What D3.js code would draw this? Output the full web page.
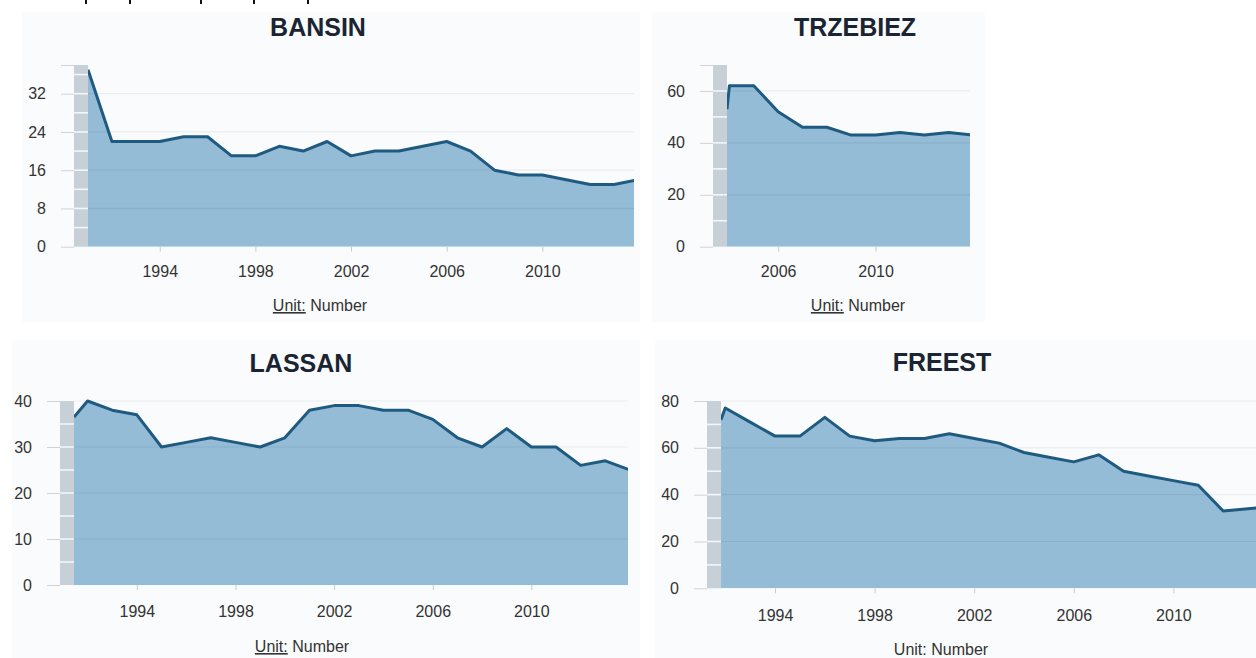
<!DOCTYPE html>
<html>
<head>
<meta charset="utf-8">
<script src="https://cdn.jsdelivr.net/npm/d3@7"></script>
<style>
  body { margin: 0; background: #fff; }
  svg { display: block; font-family: "Liberation Sans", Arial, sans-serif; }
</style>
</head>
<body>
<div id="chart"></div>
<script>
// data (first entry of each series = value at the left edge of the plot)
const bansinYears = [1991, 1992, 1993, 1994, 1995, 1996, 1997, 1998, 1999, 2000, 2001, 2002, 2003, 2004, 2005, 2006, 2007, 2008, 2009, 2010, 2011, 2012, 2013, 2014];
const bansinValues = [37, 22, 22, 22, 23, 23, 19, 19, 21, 20, 22, 19, 20, 20, 21, 22, 20, 16, 15, 15, 14, 13, 13, 14];

const trzebiezYears = [2003.9, 2004, 2005, 2006, 2007, 2008, 2009, 2010, 2011, 2012, 2013, 2014];
const trzebiezValues = [53, 62, 62, 52, 46, 46, 43, 43, 44, 43, 44, 43];

const lassanYears = [1991.45, 1992, 1993, 1994, 1995, 1996, 1997, 1998, 1999, 2000, 2001, 2002, 2003, 2004, 2005, 2006, 2007, 2008, 2009, 2010, 2011, 2012, 2013, 2014];
const lassanValues = [36.5, 40, 38, 37, 30, 31, 32, 31, 30, 32, 38, 39, 39, 38, 38, 36, 32, 30, 34, 30, 30, 26, 27, 25];

const freestYears = [1991.83, 1992, 1993, 1994, 1995, 1996, 1997, 1998, 1999, 2000, 2001, 2002, 2003, 2004, 2005, 2006, 2007, 2008, 2009, 2010, 2011, 2012, 2013, 2014];
const freestValues = [72, 77, 71, 65, 65, 73, 65, 63, 64, 64, 66, 64, 62, 58, 56, 54, 57, 50, 48, 46, 44, 33, 34, 35];

const longYearTicks = [1994, 1998, 2002, 2006, 2010];
const shortYearTicks = [2006, 2010];

const bansinYTicks = [0, 8, 16, 24, 32];
const trzebiezYTicks = [0, 20, 40, 60];
const lassanYTicks = [0, 10, 20, 30, 40];
const freestYTicks = [0, 20, 40, 60, 80];

const width = 1256, height = 658;

const svg = d3.select("#chart").append("svg")
    .attr("width", width)
    .attr("height", height);

svg.append("rect").attr("width", width).attr("height", height).attr("fill", "#fff");

// little black stubs along the very top edge
[86, 130, 201, 254, 308].forEach(x => {
    svg.append("rect").attr("x", x - 1).attr("y", 0).attr("width", 2).attr("height", 4).attr("fill", "#111");
});

const panels = [
    { title: "BANSIN", years: bansinYears, values: bansinValues, yTicks: bansinYTicks,
      yMax: 38, minor: 4, xTicks: longYearTicks,
      bg: [22, 12, 618, 310], left: 88, right: 638, clipRight: 634, top: 65, bottom: 246.7,
      titleX: 318, titleY: 36, labelGap: 15, unitX: 320, unitY: 311, underline: true },
    { title: "TRZEBIEZ", years: trzebiezYears, values: trzebiezValues, yTicks: trzebiezYTicks,
      yMax: 70, minor: 10, xTicks: shortYearTicks,
      bg: [652, 12, 333, 310], left: 727, right: 973, clipRight: 970, top: 65, bottom: 246.7,
      titleX: 855, titleY: 36, labelGap: 15, unitX: 858, unitY: 311, underline: true },
    { title: "LASSAN", years: lassanYears, values: lassanValues, yTicks: lassanYTicks,
      yMax: 40, minor: 5, xTicks: longYearTicks,
      bg: [12, 340, 628, 318], left: 74, right: 630, clipRight: 628, top: 401, bottom: 585,
      titleX: 301, titleY: 372, labelGap: 17, unitX: 302, unitY: 652, underline: true },
    { title: "FREEST", years: freestYears, values: freestValues, yTicks: freestYTicks,
      yMax: 80, minor: 10, xTicks: longYearTicks,
      bg: [655, 340, 601, 318], left: 721, right: 1273, clipRight: 1256, top: 401, bottom: 588.3,
      titleX: 942, titleY: 371, labelGap: 17, unitX: 941, unitY: 655, underline: false }
];

const bandWidth = 14;

panels.forEach((p, idx) => {
    const g = svg.append("g");
    const data = p.years.map((yr, i) => ({ year: yr, value: p.values[i] }));

    const x = d3.scaleLinear()
        .domain([p.years[0], p.years[p.years.length - 1]])
        .range([p.left, p.right]);
    const y = d3.scaleLinear().domain([0, p.yMax]).range([p.bottom, p.top]);

    // faint panel background
    g.append("rect")
        .attr("x", p.bg[0]).attr("y", p.bg[1])
        .attr("width", p.bg[2]).attr("height", p.bg[3])
        .attr("fill", "#fafbfc");

    // title
    g.append("text")
        .attr("x", p.titleX).attr("y", p.titleY)
        .attr("text-anchor", "middle")
        .attr("font-size", 25).attr("font-weight", "bold")
        .attr("fill", "#1b2433")
        .text(p.title);

    const clipId = "clip" + idx;
    g.append("clipPath").attr("id", clipId)
        .append("rect")
        .attr("x", p.left).attr("y", p.top - 6)
        .attr("width", p.clipRight - p.left).attr("height", p.bottom - p.top + 6);

    const plot = g.append("g").attr("clip-path", `url(#${clipId})`);

    const area = d3.area()
        .x(d => x(d.year))
        .y0(y(0))
        .y1(d => y(d.value));
    const line = d3.line()
        .x(d => x(d.year))
        .y(d => y(d.value));

    plot.append("path")
        .datum(data)
        .attr("d", area)
        .attr("fill", "#94bcd7");

    // horizontal grid lines
    plot.selectAll("line.grid")
        .data(p.yTicks.filter(t => t > 0))
        .enter().append("line")
        .attr("x1", p.left).attr("x2", p.clipRight)
        .attr("y1", d => y(d)).attr("y2", d => y(d))
        .attr("stroke", "rgba(0,0,0,0.06)")
        .attr("stroke-width", 1.2);

    plot.append("path")
        .datum(data)
        .attr("d", line)
        .attr("fill", "none")
        .attr("stroke", "#1f5a80")
        .attr("stroke-width", 3)
        .attr("stroke-linejoin", "round");

    // grey band along the y axis
    const bandLeft = p.left - bandWidth;
    g.append("rect")
        .attr("x", bandLeft).attr("y", p.top)
        .attr("width", bandWidth).attr("height", p.bottom - p.top)
        .attr("fill", "#c7cfd7");

    const minorTicks = d3.range(p.minor, p.yMax, p.minor);
    g.selectAll("line.minor")
        .data(minorTicks)
        .enter().append("line")
        .attr("x1", bandLeft).attr("x2", p.left)
        .attr("y1", d => y(d)).attr("y2", d => y(d))
        .attr("stroke", "#f4f6f8")
        .attr("stroke-width", 1.6);

    // y axis labels and outer ticks
    const yAxis = g.append("g")
        .attr("transform", `translate(${bandLeft},0)`)
        .call(d3.axisLeft(y)
            .tickValues(p.yTicks.concat(p.yTicks.includes(p.yMax) ? [] : [p.yMax]))
            .tickSize(13).tickPadding(15)
            .tickFormat(d => p.yTicks.includes(d) ? d : ""));
    yAxis.select(".domain").remove();
    yAxis.selectAll(".tick line").attr("stroke", "#cfd3d7");
    yAxis.selectAll(".tick text")
        .attr("font-size", 16).attr("fill", "#333")
        .attr("font-family", "Liberation Sans, Arial, sans-serif");

    // x axis
    const xAxis = g.append("g")
        .attr("transform", `translate(0,${p.bottom})`)
        .call(d3.axisBottom(x)
            .tickValues(p.xTicks)
            .tickFormat(d3.format("d"))
            .tickSize(5).tickPadding(p.labelGap - 1));
    xAxis.select(".domain").remove();
    xAxis.selectAll(".tick line").attr("stroke", "#c8ccd0");
    xAxis.selectAll(".tick text")
        .attr("font-size", 16).attr("fill", "#333")
        .attr("font-family", "Liberation Sans, Arial, sans-serif");

    // unit caption
    const unit = g.append("text")
        .attr("x", p.unitX).attr("y", p.unitY)
        .attr("text-anchor", "middle")
        .attr("font-size", 16).attr("fill", "#333");
    unit.append("tspan")
        .attr("text-decoration", p.underline ? "underline" : "none")
        .text("Unit:");
    unit.append("tspan").text(" Number");
});
</script>
</body>
</html>
